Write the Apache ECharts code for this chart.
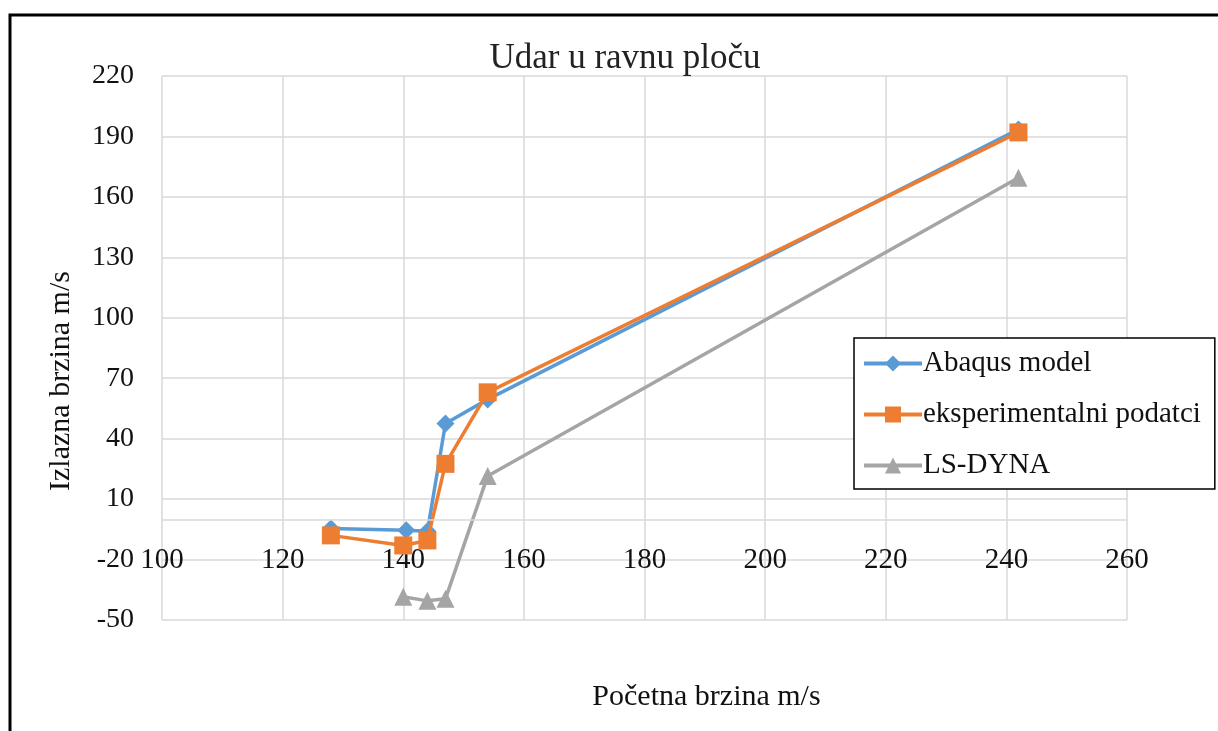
<!DOCTYPE html>
<html>
<head>
<meta charset="utf-8">
<title>Udar u ravnu ploču</title>
<script src="https://cdn.jsdelivr.net/npm/echarts@6/dist/echarts.min.js"></script>
<style>
  html, body { margin: 0; padding: 0; background: #fff; }
  #chart { width: 1218px; height: 731px; }
</style>
</head>
<body>
<div id="chart"></div>
<script>
// podaci procitani s grafa
const seriesNames = ['Abaqus model', 'eksperimentalni podatci', 'LS-DYNA']
const abaqusX = [128, 140.5, 144, 147, 154, 242]
const abaqusY = [-4.6, -5.4, -6, 47.5, 59.5, 193.5]
const eksperX = [128, 140, 144, 147, 154, 242]
const eksperY = [-8, -13, -10.5, 27.5, 63, 192]
const dynaX = [140, 144, 147, 154, 242]
const dynaY = [-38.5, -40.5, -39.5, 21.5, 169.5]

const toPoints = (xs, ys) => xs.map((x, i) => [x, ys[i]])

const font = 'Liberation Serif'
const gridColor = '#d9d9d9'

const chart = echarts.init(document.getElementById('chart'))

chart.setOption({
  animation: false,
  backgroundColor: '#fff',
  graphic: [
    {
      type: 'rect',
      shape: { x: 10, y: 15, width: 1300, height: 800 },
      style: { fill: 'none', stroke: '#000', lineWidth: 3 },
      silent: true
    }
  ],
  title: {
    text: 'Udar u ravnu ploču',
    left: 620,
    textAlign: 'center',
    top: 36,
    textStyle: {
      fontFamily: font,
      fontSize: 35,
      fontWeight: 'normal',
      color: '#222'
    }
  },
  legend: {
    orient: 'vertical',
    left: 854,
    top: 338,
    width: 362,
    padding: [11, 14, 9, 8],
    itemGap: 22,
    itemWidth: 58,
    itemHeight: 20,
    backgroundColor: '#fff',
    borderColor: '#000',
    borderWidth: 1.5,
    data: seriesNames,
    lineStyle: { width: 4 },
    textStyle: { fontFamily: font, fontSize: 29, color: '#111', padding: [0, 0, 0, -4] }
  },
  grid: {
    left: 162,
    right: 91,
    top: 76,
    bottom: 111,
    outerBoundsMode: 'none',
    containLabel: false
  },
  xAxis: {
    type: 'value',
    min: 100,
    max: 260,
    interval: 20,
    name: 'Početna brzina m/s',
    nameLocation: 'middle',
    nameGap: 62,
    nameTextStyle: { fontFamily: font, fontSize: 30, color: '#111', padding: [0, 0, 0, 124] },
    axisLine: { show: false, onZero: false },
    axisTick: { show: false },
    axisLabel: {
      margin: -74,
      fontFamily: font,
      fontSize: 29,
      color: '#111'
    },
    splitLine: { show: true, lineStyle: { color: gridColor, width: 1.5 } }
  },
  yAxis: {
    type: 'value',
    min: -50,
    max: 220,
    interval: 30,
    name: 'Izlazna brzina m/s',
    nameLocation: 'middle',
    nameGap: 86,
    nameTextStyle: { fontFamily: font, fontSize: 30, color: '#111', padding: [0, 66, 0, 0] },
    axisLine: { show: false },
    axisTick: { show: false },
    axisLabel: {
      margin: 28,
      fontFamily: font,
      fontSize: 28,
      color: '#111'
    },
    splitLine: { show: true, lineStyle: { color: gridColor, width: 1.5 } }
  },
  series: [
    {
      name: seriesNames[0],
      type: 'line',
      data: toPoints(abaqusX, abaqusY),
      symbol: 'diamond',
      symbolSize: 18,
      color: '#5B9BD5',
      lineStyle: { width: 3.5, color: '#5B9BD5' },
      z: 3
    },
    {
      name: seriesNames[1],
      type: 'line',
      data: toPoints(eksperX, eksperY),
      symbol: 'rect',
      symbolSize: 18,
      color: '#ED7D31',
      lineStyle: { width: 3.5, color: '#ED7D31' },
      z: 4
    },
    {
      name: seriesNames[2],
      type: 'line',
      data: toPoints(dynaX, dynaY),
      symbol: 'triangle',
      symbolSize: 18,
      color: '#A5A5A5',
      lineStyle: { width: 3.5, color: '#A5A5A5' },
      z: 2,
      markLine: {
        silent: true,
        symbol: 'none',
        label: { show: false },
        lineStyle: { color: gridColor, type: 'solid', width: 1.5 },
        data: [{ yAxis: 0 }]
      }
    }
  ]
})

window.addEventListener('resize', () => {
  chart.resize()
})
</script>
</body>
</html>
